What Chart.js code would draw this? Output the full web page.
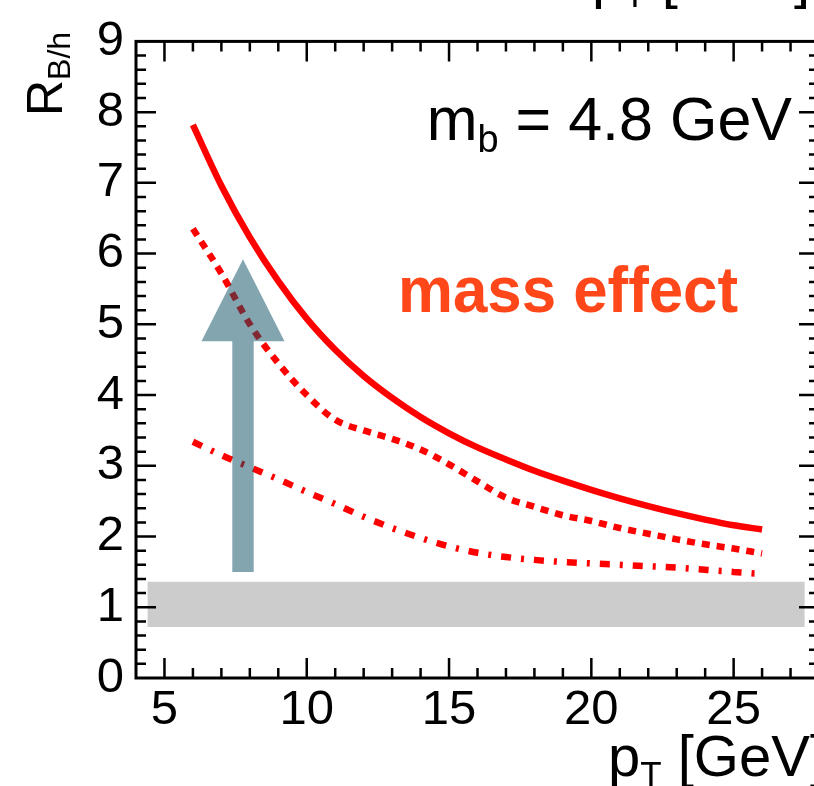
<!DOCTYPE html>
<html>
<head>
<meta charset="utf-8">
<script src="https://cdn.jsdelivr.net/npm/chart.js@4.4.1/dist/chart.umd.min.js"></script>
<style>
  html, body { margin: 0; padding: 0; background: #fff; }
  #wrap { width: 814px; height: 786px; overflow: hidden; position: relative; }
  canvas { display: block; }
</style>
</head>
<body>
<div id="wrap"><canvas id="rbh" width="830" height="786"></canvas></div>
<script>
// pT grid of the three curves [GeV]
const ptValues = [6, 7, 8, 9, 10, 11, 12, 13, 14, 15, 16, 17, 18, 19, 20, 21, 22, 23, 24, 25, 26];
// R_B/h, solid / dashed / dash-dotted
const rSolid = [7.82, 6.96, 6.23, 5.61, 5.08, 4.64, 4.27, 3.96, 3.69, 3.46, 3.26, 3.09, 2.93, 2.79, 2.66, 2.54, 2.43, 2.33, 2.24, 2.16, 2.1];
const rDashed = [6.35, 5.72, 5.0, 4.45, 4.0, 3.65, 3.5, 3.38, 3.23, 3.02, 2.78, 2.55, 2.42, 2.3, 2.22, 2.12, 2.04, 1.96, 1.89, 1.83, 1.76];
const rDashDot = [3.34, 3.15, 2.98, 2.81, 2.63, 2.46, 2.28, 2.12, 1.98, 1.86, 1.77, 1.71, 1.67, 1.64, 1.62, 1.6, 1.58, 1.56, 1.53, 1.5, 1.47];
// grey band around R = 1
const bandPt = [4.4, 27.5];
const bandLow = [0.72, 0.72];
const bandHigh = [1.36, 1.36];
// axis ticks
const xTicks = [5, 10, 15, 20, 25];
const yTicks = [0, 1, 2, 3, 4, 5, 6, 7, 8, 9];
// arrow (data coords): pT, from, head base, tip
const arrowPt = 7.76, arrowFrom = 1.5, arrowHeadBase = 4.76, arrowTip = 5.92;

const FONT = '"Liberation Sans", Arial, Helvetica, sans-serif';

function pts(xs, ys) {
    return xs.map((x, i) => ({ x: x, y: ys[i] }));
}

// frame with inward ticks on all four sides, ROOT style
const framePlugin = {
    id: 'frame',
    afterDatasetsDraw(chart) {
        const ctx = chart.ctx;
        const a = chart.chartArea;
        const xs = chart.scales.x, ys = chart.scales.y;
        ctx.save();

        // arrow, semi transparent over the curves
        const cx = xs.getPixelForValue(arrowPt);
        const sw = 10.7, hw = 41.5;
        const yFrom = ys.getPixelForValue(arrowFrom);
        const yBase = ys.getPixelForValue(arrowHeadBase);
        const yTip = ys.getPixelForValue(arrowTip);
        ctx.fillStyle = 'rgba(10,78,100,0.51)';
        ctx.beginPath();
        ctx.moveTo(cx - sw, yFrom);
        ctx.lineTo(cx - sw, yBase);
        ctx.lineTo(cx - hw, yBase);
        ctx.lineTo(cx, yTip);
        ctx.lineTo(cx + hw, yBase);
        ctx.lineTo(cx + sw, yBase);
        ctx.lineTo(cx + sw, yFrom);
        ctx.closePath();
        ctx.fill();

        ctx.strokeStyle = '#000';
        ctx.lineWidth = 2.5;
        ctx.beginPath();
        for (let v = 5; v < 28; v++) {
            const len = v % 5 === 0 ? 20 : 10;
            const px = xs.getPixelForValue(v);
            ctx.moveTo(px, a.bottom); ctx.lineTo(px, a.bottom - len);
            ctx.moveTo(px, a.top); ctx.lineTo(px, a.top + len);
        }
        for (let i = 1; i < 45; i++) {
            const len = i % 5 === 0 ? 20 : 10;
            const py = ys.getPixelForValue(i * 0.2);
            ctx.moveTo(a.left, py); ctx.lineTo(a.left + len, py);
            ctx.moveTo(a.right, py); ctx.lineTo(a.right - len, py);
        }
        ctx.stroke();

        ctx.lineWidth = 3;
        ctx.strokeRect(a.left, a.top, a.right - a.left, a.bottom - a.top);
        ctx.restore();
    },
    afterDraw(chart) {
        const ctx = chart.ctx;
        ctx.save();
        ctx.fillStyle = '#000';
        ctx.textBaseline = 'alphabetic';

        // text with subscript, laid out so it ends at xRight
        function subText(main, sub, rest, size, subSize, drop, xRight, yBase) {
            ctx.font = size + 'px ' + FONT;
            const w1 = ctx.measureText(main).width;
            const w3 = ctx.measureText(rest).width;
            ctx.font = subSize + 'px ' + FONT;
            const w2 = ctx.measureText(sub).width;
            let x = xRight - (w1 + w2 + w3);
            ctx.font = size + 'px ' + FONT;
            ctx.fillText(main, x, yBase);
            x += w1;
            ctx.font = subSize + 'px ' + FONT;
            ctx.fillText(sub, x, yBase + drop);
            x += w2;
            ctx.font = size + 'px ' + FONT;
            ctx.fillText(rest, x, yBase);
        }

        subText('m', 'b', ' = 4.8 GeV', 61, 38, 12, 792, 140);
        subText('p', 'T', ' [GeV]', 58, 35, 10, 826, 776);
        subText('p', 'T', ' [GeV]', 58, 35, 10, 810, -3);

        ctx.fillStyle = '#ff4719';
        ctx.font = 'bold 64px ' + FONT;
        ctx.fillText('mass effect', 398, 312, 340);

        // y title, rotated
        ctx.fillStyle = '#000';
        ctx.translate(62, 116);
        ctx.rotate(-Math.PI / 2);
        ctx.font = '50px ' + FONT;
        ctx.fillText('R', 0, 0);
        const wr = ctx.measureText('R').width;
        ctx.font = '32px ' + FONT;
        ctx.fillText('B/h', wr, 8);
        ctx.restore();
    }
};

const curveStyle = {
    type: 'line',
    borderColor: '#ff0000',
    borderWidth: 6.5,
    borderCapStyle: 'butt',
    pointRadius: 0,
    fill: false,
    cubicInterpolationMode: 'monotone',
    order: 1
};

new Chart(document.getElementById('rbh'), {
    type: 'line',
    data: {
        datasets: [
            Object.assign({}, curveStyle, { data: pts(ptValues, rSolid) }),
            Object.assign({}, curveStyle, { data: pts(ptValues, rDashed), borderDash: [8, 7] }),
            Object.assign({}, curveStyle, { data: pts(ptValues, rDashDot), borderDash: [10, 10, 3, 10] }),
            {
                data: pts(bandPt, bandLow),
                borderColor: 'rgba(0,0,0,0)', borderWidth: 1, pointRadius: 0,
                fill: false, order: 10
            },
            {
                data: pts(bandPt, bandHigh),
                borderColor: 'rgba(0,0,0,0)', borderWidth: 1, pointRadius: 0,
                backgroundColor: '#cccccc', fill: '-1', order: 10
            }
        ]
    },
    options: {
        responsive: false,
        animation: false,
        devicePixelRatio: 1,
        layout: { padding: { top: 36, right: 11, left: 0, bottom: 0 } },
        plugins: { legend: { display: false }, tooltip: { enabled: false } },
        scales: {
            x: {
                type: 'linear', min: 4, max: 28,
                grid: { display: false, drawTicks: false },
                border: { display: false },
                afterBuildTicks: s => { s.ticks = xTicks.map(v => ({ value: v })); },
                afterFit: s => { s.height = 108; },
                ticks: {
                    padding: 3, color: '#000', maxRotation: 0, autoSkip: false,
                    font: { family: FONT, size: 49 }
                }
            },
            y: {
                type: 'linear', min: 0, max: 9,
                grid: { display: false, drawTicks: false },
                border: { display: false },
                afterBuildTicks: s => { s.ticks = yTicks.map(v => ({ value: v })); },
                afterFit: s => { s.width = 136; },
                ticks: {
                    padding: 12, color: '#000', autoSkip: false,
                    font: { family: FONT, size: 49 }
                }
            }
        }
    },
    plugins: [framePlugin]
});
</script>
</body>
</html>
